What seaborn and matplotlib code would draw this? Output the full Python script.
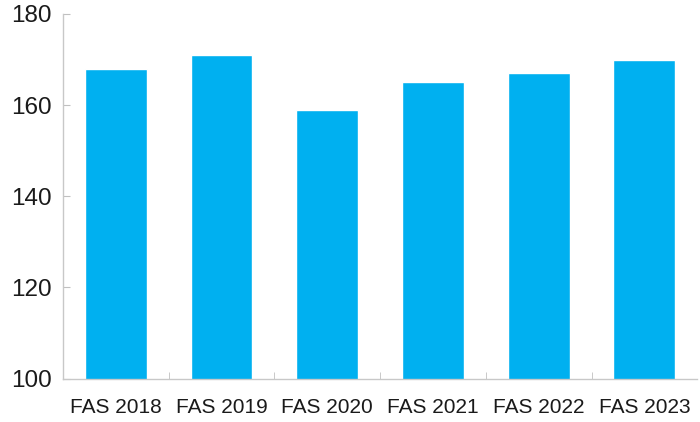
import matplotlib
matplotlib.use("Agg")
import matplotlib.pyplot as plt
import numpy as np
import pandas as pd
import seaborn as sns

# values
categories = ["FAS 2018", "FAS 2019", "FAS 2020", "FAS 2021", "FAS 2022", "FAS 2023"]
values = [168, 171, 159, 165, 167, 170]
y_ticks = [100, 120, 140, 160, 180]

sns.set_style("white")
plt.rcParams['font.family'] = ['Liberation Sans', 'DejaVu Sans']

df = pd.DataFrame({"year": categories, "value": values})

fig = plt.figure(figsize=(7, 4.22), dpi=100)
ax = fig.add_axes([0.09, 0.103, 0.906, 0.864])
sns.barplot(data=df, x="year", y="value", color="#00B0F0", width=0.585,
            saturation=1, ax=ax)

ax.set_ylim(100, 180)
ax.set_xlim(-0.5, len(categories) - 0.5)
ax.set_yticks(y_ticks)
ax.set_xlabel("")
ax.set_ylabel("")

# category separators as minor ticks pointing up
ax.set_xticks(np.arange(len(categories) - 1) + 0.5, minor=True)
ax.tick_params(axis="x", which="major", length=0, pad=14, labelsize=15, colors="#1a1a1a")
ax.tick_params(axis="x", which="minor", direction="in", length=5, color="#c0c0c0", bottom=True)
ax.tick_params(axis="y", direction="in", length=5, color="#c0c0c0", pad=8, labelsize=17.5,
               labelcolor="#1a1a1a", left=True)

for side in ["top", "right"]:
    ax.spines[side].set_visible(False)
for side in ["left", "bottom"]:
    ax.spines[side].set_color("#c8c8c8")
    ax.spines[side].set_linewidth(1)

plt.savefig("out.png", dpi=100)
